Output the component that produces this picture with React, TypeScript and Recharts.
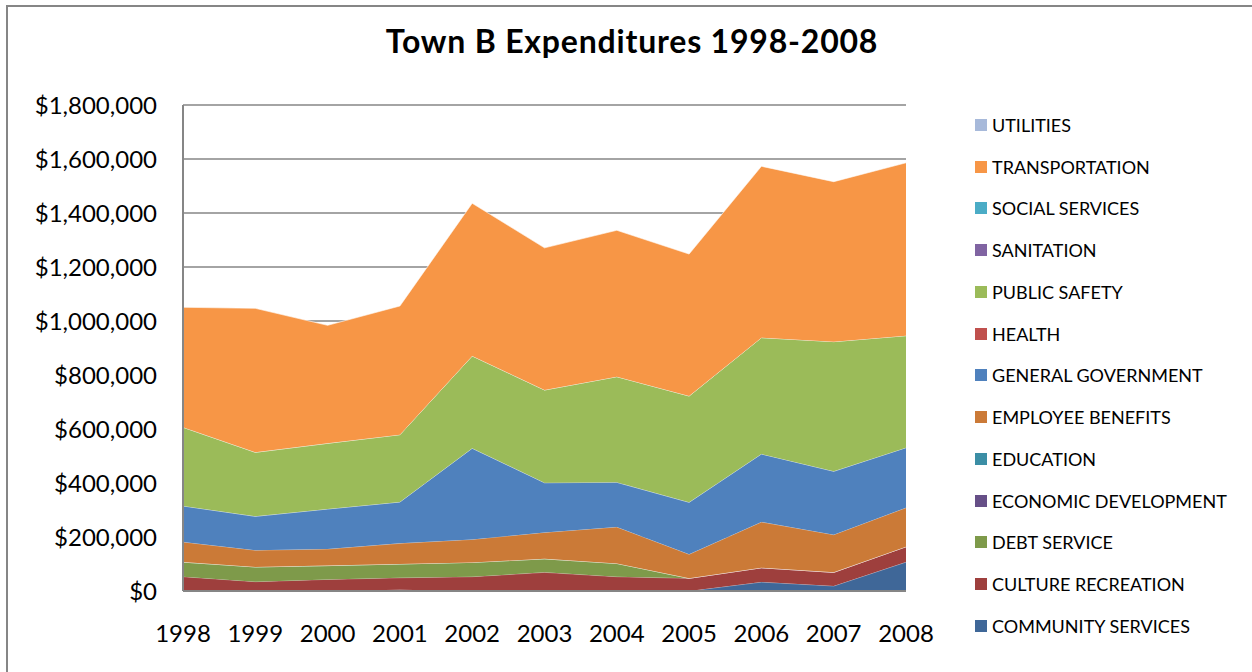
import { Area, AreaChart, CartesianGrid, XAxis, YAxis } from "recharts";

// years on the category axis
const YEARS = ["1998", "1999", "2000", "2001", "2002", "2003", "2004", "2005", "2006", "2007", "2008"];

// stacked from the bottom up
const COMMUNITY_SERVICES = [0, 0, 0, 5000, 0, 0, 0, 0, 33000, 18500, 107000];
const CULTURE_RECREATION = [53000, 34500, 43000, 44000, 53000, 69000, 53000, 47000, 53000, 50500, 57000];
const DEBT_SERVICE = [54000, 54500, 51000, 51000, 53000, 50000, 49000, 0, 0, 0, 0];
const ECONOMIC_DEVELOPMENT = [0, 0, 0, 0, 0, 0, 0, 0, 0, 0, 0];
const EDUCATION = [0, 0, 0, 0, 0, 0, 0, 0, 0, 0, 0];
const EMPLOYEE_BENEFITS = [74500, 62000, 61500, 76500, 85000, 98000, 135000, 89000, 169500, 139500, 144500];
const GENERAL_GOVERNMENT = [133500, 125500, 148200, 153100, 337500, 184000, 165500, 192500, 251900, 234800, 222300];
const HEALTH = [0, 0, 0, 0, 0, 0, 0, 0, 0, 0, 0];
const PUBLIC_SAFETY = [291300, 237200, 243300, 249400, 341900, 343400, 391200, 393700, 430900, 480200, 414900];
const SANITATION = [0, 0, 0, 0, 0, 0, 0, 0, 0, 0, 0];
const SOCIAL_SERVICES = [0, 0, 0, 0, 0, 0, 0, 0, 0, 0, 0];
const TRANSPORTATION = [444400, 533300, 437000, 476600, 565600, 526600, 542300, 525800, 634700, 592500, 640300];
const UTILITIES = [0, 0, 0, 0, 0, 0, 0, 0, 0, 0, 0];

const Y_TICKS = [0, 200000, 400000, 600000, 800000, 1000000, 1200000, 1400000, 1600000, 1800000];

const SERIES = [
  { key: "community", name: "COMMUNITY SERVICES", values: COMMUNITY_SERVICES, color: "#3F6798" },
  { key: "culture", name: "CULTURE RECREATION", values: CULTURE_RECREATION, color: "#9E3F3D" },
  { key: "debt", name: "DEBT SERVICE", values: DEBT_SERVICE, color: "#7E9A4A" },
  { key: "econ", name: "ECONOMIC DEVELOPMENT", values: ECONOMIC_DEVELOPMENT, color: "#664F87" },
  { key: "education", name: "EDUCATION", values: EDUCATION, color: "#3B8EA5" },
  { key: "benefits", name: "EMPLOYEE BENEFITS", values: EMPLOYEE_BENEFITS, color: "#CB7A37" },
  { key: "general", name: "GENERAL GOVERNMENT", values: GENERAL_GOVERNMENT, color: "#4F81BD" },
  { key: "health", name: "HEALTH", values: HEALTH, color: "#C0504D" },
  { key: "safety", name: "PUBLIC SAFETY", values: PUBLIC_SAFETY, color: "#9BBB59" },
  { key: "sanitation", name: "SANITATION", values: SANITATION, color: "#8064A2" },
  { key: "social", name: "SOCIAL SERVICES", values: SOCIAL_SERVICES, color: "#4BACC6" },
  { key: "transport", name: "TRANSPORTATION", values: TRANSPORTATION, color: "#F79646" },
  { key: "utilities", name: "UTILITIES", values: UTILITIES, color: "#A7B9DA" },
];

const rows = YEARS.map((year, i) => {
  const row: Record<string, string | number> = { year };
  SERIES.forEach((s) => {
    row[s.key] = s.values[i];
  });
  return row;
});

const AXIS_GREY = "#868686";
const FONT = "Lato, 'Open Sans', sans-serif";

const formatDollars = (v: number) => "$" + Number(v).toLocaleString("en-US");

function LegendList() {
  return (
    <div style={{ position: "absolute", left: 975, top: 113, fontFamily: FONT }}>
      {[...SERIES].reverse().map((s) => (
        <div key={s.key} style={{ height: 41.75, display: "flex", alignItems: "center", position: "relative", top: -8.9 }}>
          <div style={{ width: 12, height: 12, background: s.color, marginRight: 5 }} />
          <span style={{ fontSize: 18, color: "#000", lineHeight: "18px" }}>{s.name}</span>
        </div>
      ))}
    </div>
  );
}

export default function App() {
  return (
    <div style={{ position: "absolute", left: 0, top: 0, width: 1252, height: 672, background: "#fff", overflow: "hidden" }}>
      <div
        style={{
          position: "absolute",
          left: 6,
          top: 5,
          width: 1300,
          height: 720,
          border: `2px solid ${AXIS_GREY}`,
        }}
      />
      <div
        style={{
          position: "absolute",
          left: 0,
          width: 1264,
          top: 23,
          textAlign: "center",
          fontFamily: FONT,
          fontWeight: 700,
          fontSize: 32,
          letterSpacing: 0.8,
          color: "#000",
          lineHeight: "36px",
        }}
      >
        Town B Expenditures 1998-2008
      </div>
      <div style={{ position: "absolute", left: 0, top: 0 }}>
        <AreaChart width={1252} height={672} data={rows} margin={{ top: 105, right: 346, bottom: 31, left: 0 }}>
          <CartesianGrid vertical={false} stroke={AXIS_GREY} strokeWidth={1.5} />
          <XAxis
            dataKey="year"
            height={50}
            axisLine={{ stroke: AXIS_GREY, strokeWidth: 2 }}
            tickLine={false}
            tickSize={6}
            tickMargin={28}
            tick={{ fill: "#000", fontSize: 24, fontFamily: FONT }}
            interval={0}
          />
          <YAxis
            width={183}
            domain={[0, 1800000]}
            ticks={Y_TICKS}
            axisLine={{ stroke: AXIS_GREY, strokeWidth: 2 }}
            tickLine={false}
            tickSize={6}
            tickMargin={20}
            tick={{ fill: "#000", fontSize: 24, fontFamily: FONT }}
            tickFormatter={formatDollars}
          />
          {SERIES.map((s) => (
            <Area
              key={s.key}
              dataKey={s.key}
              name={s.name}
              stackId="1"
              type="linear"
              fill={s.color}
              fillOpacity={1}
              stroke="#ffffff"
              strokeOpacity={0.35}
              strokeWidth={1}
              isAnimationActive={false}
            />
          ))}
        </AreaChart>
      </div>
      <LegendList />
    </div>
  );
}
